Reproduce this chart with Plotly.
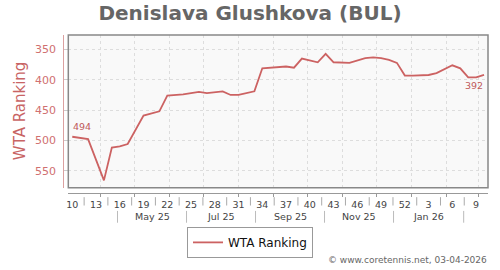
import pandas as pd
import plotly.graph_objects as go

# ---------------- data ----------------
dates = ["2025-03-03", "2025-03-17", "2025-03-31", "2025-04-07", "2025-04-14", "2025-04-21",
         "2025-05-05", "2025-05-19", "2025-05-26", "2025-06-09", "2025-06-23", "2025-06-30",
         "2025-07-14", "2025-07-21", "2025-07-28", "2025-08-11", "2025-08-18", "2025-08-25",
         "2025-09-08", "2025-09-15", "2025-09-22", "2025-10-06", "2025-10-13", "2025-10-20",
         "2025-10-27", "2025-11-03", "2025-11-17", "2025-11-24", "2025-12-01", "2025-12-08",
         "2025-12-15", "2025-12-22", "2025-12-29", "2026-01-12", "2026-01-19", "2026-02-02",
         "2026-02-09", "2026-02-16", "2026-02-23", "2026-03-02"]
ranks = [494, 498, 566, 512, 510, 506,
         459, 452, 426, 424, 420, 422,
         419, 425, 425, 419, 381, 380,
         378, 380, 365, 371, 357, 371,
         371, 372, 364, 363, 364, 367,
         372, 393, 393, 392, 389, 376,
         381, 396, 396, 392]

week_labels = ["10", "13", "16", "19", "22", "25", "28", "31", "34", "37",
               "40", "43", "46", "49", "52", "3", "6", "9"]
month_labels = ["May 25", "Jul 25", "Sep 25", "Nov 25", "Jan 26"]
y_ticks = [350, 400, 450, 500, 550]

title = "Denislava Glushkova (BUL)"
series_name = "WTA Ranking"
credit = "© www.coretennis.net, 03-04-2026"

# ---------------- derived positions ----------------
first = pd.Timestamp(dates[0])
last = pd.Timestamp(dates[-1])
half_week = pd.Timedelta(days=3.5)
x_range = [first - half_week, last + half_week]

week_tick_dates = [first + pd.Timedelta(days=21 * i) for i in range(len(week_labels))]
week_sep_dates = [d + pd.Timedelta(days=10.5) for d in week_tick_dates[:-1]]

shift = pd.Timedelta(days=4)
grid_dates = [d - shift for d in pd.date_range("2025-04-01", "2026-03-01", freq="MS")]
month_sep_dates = [pd.Timestamp(y, m, 16) - shift for y, m in
                   [(2025, 4), (2025, 6), (2025, 8), (2025, 10), (2025, 12), (2026, 2)]]
month_label_dates = [a + (b - a) / 2 for a, b in zip(month_sep_dates[:-1], month_sep_dates[1:])]

LINE = "#cc6262"
FONT = "DejaVu Sans"

fig = go.Figure()
fig.add_trace(go.Scatter(x=dates, y=ranks, mode="lines", name=series_name,
                         line=dict(color=LINE, width=1.8)))

# data labels first / last
fig.add_annotation(x=dates[0], y=ranks[0], text=str(ranks[0]), showarrow=False,
                   xanchor="left", yanchor="bottom", yshift=3, xshift=-1,
                   font=dict(family=FONT, size=9.5, color="#c05a5a"))
fig.add_annotation(x=dates[-1], y=ranks[-1], text=str(ranks[-1]), showarrow=False,
                   xanchor="right", yanchor="top", yshift=-3, xshift=1,
                   font=dict(family=FONT, size=9.5, color="#c05a5a"))

# paper geometry
ML, MR, MT, MB = 55, 12, 35, 60
PW, PH = 500 - ML - MR, 270 - MT - MB
def py(ypix):
    return (270 - MB - ypix) / PH
def px(xpix):
    return (xpix - ML) / PW

# week separators
for d in week_sep_dates:
    fig.add_shape(type="line", xref="x", yref="paper", x0=d, x1=d,
                  y0=py(200), y1=py(208.5), line=dict(color="#aaaaaa", width=1))
# month separators and labels
for d in month_sep_dates:
    fig.add_shape(type="line", xref="x", yref="paper", x0=d, x1=d,
                  y0=py(214), y1=py(226), line=dict(color="#bbbbbb", width=1))
for d, t in zip(month_label_dates, month_labels):
    fig.add_annotation(x=d, y=py(220), xref="x", yref="paper", text=t, showarrow=False,
                       xanchor="center", yanchor="middle",
                       font=dict(family=FONT, size=9.5, color="#444444"))

# plot border
fig.add_shape(type="rect", xref="x domain", yref="y domain", x0=0, x1=1, y0=0, y1=1,
              line=dict(color="#888888", width=1.5), layer="above")

# y axis title
fig.add_annotation(x=px(20), y=py(112.5), xref="paper", yref="paper", text=series_name,
                   textangle=-90, showarrow=False, xanchor="center", yanchor="middle",
                   font=dict(family=FONT, size=15, color="#c86464"))
# credit
fig.add_annotation(x=px(489), y=py(264), xref="paper", yref="paper", text=credit,
                   showarrow=False, xanchor="right", yanchor="middle",
                   font=dict(family=FONT, size=9, color="#666666"))

fig.update_layout(
    width=500, height=270,
    margin=dict(l=ML, r=MR, t=MT, b=MB, pad=0),
    paper_bgcolor="white", plot_bgcolor="#f9f9f9",
    title=dict(text="<b>" + title + "</b>", x=0.5, xref="container", xanchor="center",
               y=1 - 13 / 270, yref="container", yanchor="middle",
               font=dict(family=FONT, size=20, color="#666666")),
    font=dict(family=FONT),
    showlegend=True,
    legend=dict(orientation="h", x=px(250), y=py(246), xanchor="center", yanchor="middle",
                bordercolor="#999999", borderwidth=1, bgcolor="white",
                font=dict(family=FONT, size=12, color="#111111"), itemwidth=30),
    xaxis=dict(type="date", range=x_range, domain=[px(68.3), 1],
               anchor="free", position=py(195.3),
               showline=True, linecolor="#999999", linewidth=1,
               tickmode="array", tickvals=week_tick_dates, ticktext=week_labels,
               ticks="", showgrid=False, zeroline=False,
               tickfont=dict(family=FONT, size=9.5, color="#444444"),
               ticklabelstandoff=3,
               minor=dict(tickmode="array", tickvals=grid_dates, showgrid=True,
                          gridcolor="#dddddd", griddash="3px,3px", gridwidth=1,
                          ticks="outside", ticklen=3, tickcolor="#999999")),
    yaxis=dict(range=[578, 326], domain=[py(190.3), 1],
               anchor="free", position=px(63.3),
               showline=True, linecolor="#dba0a0", linewidth=1,
               tickmode="array", tickvals=y_ticks,
               ticks="inside", ticklen=5, tickcolor="#cccccc",
               showgrid=True, gridcolor="#dddddd", griddash="3px,3px", zeroline=False,
               tickfont=dict(family=FONT, size=11, color="#d07070"),
               ticklabelstandoff=5),
)

fig.write_html("out.html")
